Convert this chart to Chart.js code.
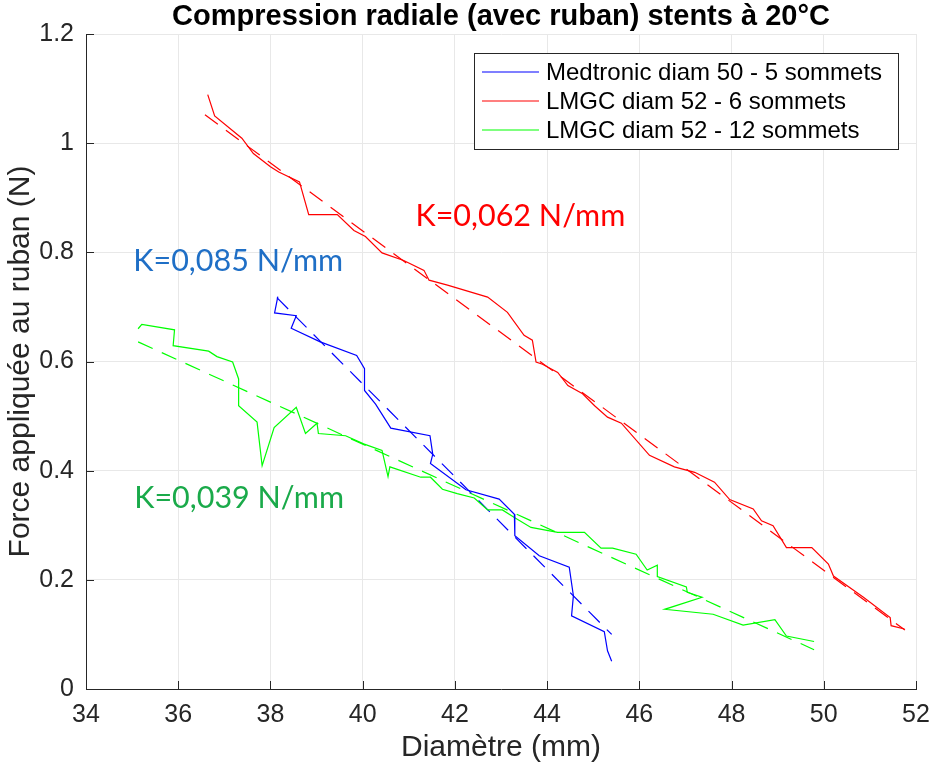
<!DOCTYPE html>
<html>
<head>
<meta charset="utf-8">
<script src="https://cdn.jsdelivr.net/npm/chart.js@4"></script>
<style>
  html, body { margin: 0; padding: 0; background: #fff; }
</style>
</head>
<body>
<canvas id="chart" width="933" height="766"></canvas>
<script>
// series labels (legend)
const seriesLabels = ["Medtronic diam 50 - 5 sommets", "LMGC diam 52 - 6 sommets", "LMGC diam 52 - 12 sommets"];

// measured curves [diameter mm, force N]
const medtronic = [
    [38.16, 0.719], [38.09, 0.689], [38.56, 0.684], [38.45, 0.661], [39.08, 0.636], [39.87, 0.611],
    [40.04, 0.587], [40.04, 0.547], [40.28, 0.522], [40.61, 0.478], [41.46, 0.464], [41.52, 0.430],
    [41.47, 0.413], [42.24, 0.365], [42.96, 0.348], [43.29, 0.320], [43.30, 0.281], [43.83, 0.244],
    [44.48, 0.223], [44.57, 0.171], [44.53, 0.134], [45.24, 0.105], [45.31, 0.070], [45.40, 0.051]
];
const lmgc6 = [
    [36.64, 1.089], [36.79, 1.050], [37.38, 1.009], [37.63, 0.981], [38.00, 0.957], [38.18, 0.947],
    [38.63, 0.929], [38.83, 0.869], [39.45, 0.869], [39.81, 0.840], [40.06, 0.829], [40.42, 0.799],
    [40.89, 0.785], [41.33, 0.767], [41.44, 0.749], [41.84, 0.740], [42.71, 0.718], [43.14, 0.690],
    [43.50, 0.648], [43.68, 0.639], [43.76, 0.599], [43.90, 0.595], [44.23, 0.580], [44.45, 0.556],
    [44.77, 0.541], [45.03, 0.519], [45.31, 0.498], [45.61, 0.487], [46.22, 0.428], [46.76, 0.407],
    [47.20, 0.397], [47.63, 0.379], [47.96, 0.347], [48.47, 0.330], [48.65, 0.308], [48.90, 0.299],
    [49.19, 0.259], [49.74, 0.259], [50.10, 0.229], [50.21, 0.207], [50.86, 0.168], [51.44, 0.131],
    [51.46, 0.116], [51.75, 0.110]
];
const lmgc12 = [
    [35.13, 0.660], [35.21, 0.668], [35.92, 0.658], [35.89, 0.629], [36.66, 0.619], [36.84, 0.609],
    [37.18, 0.599], [37.31, 0.568], [37.31, 0.519], [37.71, 0.489], [37.82, 0.409], [38.08, 0.479],
    [38.56, 0.516], [38.76, 0.468], [39.01, 0.487], [39.04, 0.468], [39.63, 0.464], [40.02, 0.449],
    [40.42, 0.437], [40.55, 0.389], [40.59, 0.407], [41.26, 0.388], [41.47, 0.388], [41.73, 0.366],
    [42.05, 0.358], [42.42, 0.350], [42.71, 0.328], [43.03, 0.328], [43.29, 0.314], [43.65, 0.296],
    [44.23, 0.287], [44.81, 0.287], [45.17, 0.258], [45.42, 0.258], [45.93, 0.247], [46.17, 0.218],
    [46.39, 0.227], [46.39, 0.206], [47.02, 0.187], [47.04, 0.177], [47.36, 0.168], [46.55, 0.146],
    [47.60, 0.137], [48.25, 0.117], [48.94, 0.127], [49.19, 0.097], [49.79, 0.087]
];

// linear fits (end points)
const fitMedtronic = [[38.14, 0.717], [45.40, 0.100]];
const fitLmgc6 = [[36.58, 1.052], [51.76, 0.108]];
const fitLmgc12 = [[35.13, 0.636], [49.79, 0.072]];

// stiffness labels
const slopeTexts = ["K=0,085 N/mm", "K=0,062 N/mm", "K=0,039 N/mm"];
const slopeAt = [[37.30, 0.784], [43.42, 0.866], [37.32, 0.350]];

const xTicks = [34, 36, 38, 40, 42, 44, 46, 48, 50, 52];
const yTicks = [0, 0.2, 0.4, 0.6, 0.8, 1, 1.2];

const titleText = "Compression radiale (avec ruban) stents à 20°C";
const xTitle = "Diamètre (mm)";
const yTitle = "Force appliquée au ruban (N)";

const lineColors = ["#0000ff", "#ff0000", "#00ff00"];
const slopeColors = ["#1f6fc6", "#ff0000", "#1aaa4a"];
const AXIS_COLOR = "#262626";
const FONT = "'Liberation Sans', Arial, sans-serif";

const toPts = arr => arr.map(p => ({ x: p[0], y: p[1] }));

function solid(label, arr, color) {
    return {
        label: label, data: toPts(arr), showLine: true, borderColor: color,
        borderWidth: 1.2, pointRadius: 0, fill: false, tension: 0
    };
}
function dashed(arr, color) {
    return {
        label: "fit", data: toPts(arr), showLine: true, borderColor: color,
        borderWidth: 1.2, borderDash: [16, 10], pointRadius: 0, fill: false
    };
}

/* title, inward ticks, legend box, K labels */
const decorPlugin = {
    id: "decor",
    afterDraw(chart) {
        const { ctx, chartArea: a, scales } = chart;
        ctx.save();

        // title
        ctx.fillStyle = "#000";
        ctx.font = "bold 29px " + FONT;
        ctx.textAlign = "center";
        ctx.textBaseline = "middle";
        ctx.fillText(titleText, (a.left + a.right) / 2, 17);

        // inward ticks
        ctx.strokeStyle = AXIS_COLOR;
        ctx.lineWidth = 1;
        ctx.beginPath();
        xTicks.forEach(v => {
            const px = Math.round(scales.x.getPixelForValue(v)) + 0.5;
            ctx.moveTo(px, a.bottom);
            ctx.lineTo(px, a.bottom - 8);
        });
        yTicks.forEach(v => {
            const py = Math.round(scales.y.getPixelForValue(v)) + 0.5;
            ctx.moveTo(a.left, py);
            ctx.lineTo(a.left + 8, py);
        });
        ctx.stroke();

        // legend box
        const lx = 474, ly = 53, lw = 424, lh = 96;
        ctx.fillStyle = "#fff";
        ctx.fillRect(lx, ly, lw, lh);
        ctx.strokeStyle = "#262626";
        ctx.strokeRect(lx + 0.5, ly + 0.5, lw, lh);
        ctx.font = "24px " + FONT;
        ctx.textAlign = "left";
        ctx.textBaseline = "middle";
        seriesLabels.forEach((lab, i) => {
            const yy = ly + 19 + i * 29;
            ctx.strokeStyle = lineColors[i];
            ctx.lineWidth = 1.2;
            ctx.beginPath();
            ctx.moveTo(lx + 8, yy);
            ctx.lineTo(lx + 65, yy);
            ctx.stroke();
            ctx.fillStyle = "#000";
            ctx.fillText(lab, lx + 72, yy + 1);
        });

        // K labels
        ctx.font = "30.5px Lato, 'Open Sans', sans-serif";
        ctx.textAlign = "center";
        slopeTexts.forEach((t, i) => {
            ctx.fillStyle = slopeColors[i];
            ctx.fillText(t, scales.x.getPixelForValue(slopeAt[i][0]), scales.y.getPixelForValue(slopeAt[i][1]));
        });
        ctx.restore();
    }
};

new Chart(document.getElementById("chart"), {
    type: "scatter",
    data: {
        datasets: [
            solid(seriesLabels[0], medtronic, lineColors[0]),
            solid(seriesLabels[1], lmgc6, lineColors[1]),
            solid(seriesLabels[2], lmgc12, lineColors[2]),
            dashed(fitMedtronic, lineColors[0]),
            dashed(fitLmgc6, lineColors[1]),
            dashed(fitLmgc12, lineColors[2])
        ]
    },
    options: {
        responsive: false,
        animation: false,
        layout: { padding: { top: 34, right: 17, left: 0, bottom: 0 } },
        plugins: {
            legend: { display: false },
            tooltip: { enabled: false },
            title: { display: false }
        },
        scales: {
            x: {
                type: "linear",
                min: 34, max: 52,
                afterBuildTicks: s => { s.ticks = xTicks.map(v => ({ value: v })); },
                afterFit: s => { s.height = 77; s.paddingLeft = 0; s.paddingRight = 0; },
                ticks: { color: AXIS_COLOR, font: { family: FONT, size: 25 }, padding: 11, maxRotation: 0 },
                grid: { color: "#e8e8e8", drawTicks: false },
                border: { color: AXIS_COLOR, width: 1 },
                title: { display: true, text: xTitle, color: AXIS_COLOR, font: { family: FONT, size: 30 }, padding: { top: 0, bottom: 0 } }
            },
            y: {
                min: 0, max: 1.2,
                afterBuildTicks: s => { s.ticks = yTicks.map(v => ({ value: v })); },
                afterFit: s => { s.width = 86; s.paddingTop = 0; s.paddingBottom = 0; },
                ticks: {
                    color: AXIS_COLOR, font: { family: FONT, size: 25 }, padding: 12,
                    callback: v => String(Math.round(v * 10) / 10)
                },
                grid: { color: "#e8e8e8", drawTicks: false },
                border: { color: AXIS_COLOR, width: 1 },
                title: { display: true, text: yTitle, color: AXIS_COLOR, font: { family: FONT, size: 30 }, padding: { top: 3, bottom: 0 } }
            }
        }
    },
    plugins: [decorPlugin]
});
</script>
</body>
</html>
